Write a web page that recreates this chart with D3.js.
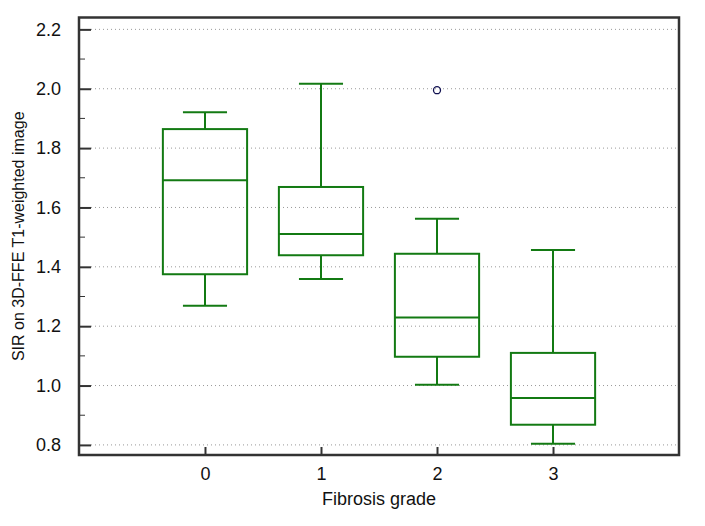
<!DOCTYPE html>
<html>
<head>
<meta charset="utf-8">
<script src="https://cdn.jsdelivr.net/npm/d3@7"></script>
<style>
  body { margin: 0; background: #fff; }
  text { font-family: "Liberation Sans", Arial, sans-serif; fill: #111; }
</style>
</head>
<body>
<div class="container"></div>
<script>
// box plot values
const grades = [0, 1, 2, 3];
const whiskerLow = [1.269, 1.359, 1.003, 0.804];
const q1 = [1.375, 1.439, 1.097, 0.868];
const median = [1.692, 1.511, 1.229, 0.958];
const q3 = [1.864, 1.669, 1.444, 1.110];
const whiskerHigh = [1.921, 2.017, 1.562, 1.457];
const outliers = [{grade: 2, value: 1.995}];
const yTicks = [0.8, 1.0, 1.2, 1.4, 1.6, 1.8, 2.0, 2.2];

const w = 705, h = 526;
const mLeft = 79, mRight = 679, mTop = 17.5, mBottom = 455;
const green = "#137a13";

const svg = d3.select(".container").append("svg")
  .attr("width", w).attr("height", h);

const x = d3.scaleLinear().domain([-1.086, 4.086]).range([mLeft, mRight]);
const y = d3.scaleLinear().domain([0.766, 2.24]).range([mBottom, mTop]);

// dotted grid
svg.append("g").selectAll("line")
  .data(yTicks).enter().append("line")
  .attr("x1", mLeft + 12).attr("x2", mRight)
  .attr("y1", d => y(d)).attr("y2", d => y(d))
  .attr("stroke", "#999").attr("stroke-width", 1)
  .attr("stroke-dasharray", "1,3");

// minor ticks
const minor = d3.range(0.8, 2.25, 0.1).filter(v => Math.round(v * 10) % 2 === 1);
svg.append("g").selectAll("line")
  .data(minor).enter().append("line")
  .attr("x1", mLeft).attr("x2", mLeft + 6)
  .attr("y1", d => y(d)).attr("y2", d => y(d))
  .attr("stroke", "#333").attr("stroke-width", 1);

// major y ticks + labels
const yAxis = d3.axisLeft(y).tickValues(yTicks).tickSize(-12).tickPadding(18)
  .tickFormat(d3.format(".1f"));
const gy = svg.append("g").attr("transform", `translate(${mLeft},0)`).call(yAxis);
gy.select(".domain").remove();
gy.selectAll(".tick line").attr("stroke", "#333").attr("stroke-width", 2);
gy.selectAll(".tick text").attr("font-size", 18).attr("fill", "#111")
  .attr("font-family", "Liberation Sans, Arial, sans-serif");

// x ticks + labels
const xAxis = d3.axisBottom(x).tickValues(grades).tickSize(-8).tickPadding(12)
  .tickFormat(d3.format("d"));
const gx = svg.append("g").attr("transform", `translate(0,${mBottom})`).call(xAxis);
gx.select(".domain").remove();
gx.selectAll(".tick line").attr("stroke", "#333").attr("stroke-width", 2);
gx.selectAll(".tick text").attr("font-size", 18).attr("fill", "#111")
  .attr("font-family", "Liberation Sans, Arial, sans-serif");

// frame
svg.append("rect")
  .attr("x", mLeft).attr("y", mTop)
  .attr("width", mRight - mLeft).attr("height", mBottom - mTop)
  .attr("fill", "none").attr("stroke", "#333").attr("stroke-width", 2.5);

// boxes
const boxHalf = 0.363, capHalf = 0.19;
const g = svg.append("g").attr("stroke", green).attr("stroke-width", 2).attr("fill", "none");
grades.forEach((k, i) => {
  const cx = x(k);
  g.append("line").attr("x1", cx).attr("x2", cx)
    .attr("y1", y(q3[i])).attr("y2", y(whiskerHigh[i]));
  g.append("line").attr("x1", cx).attr("x2", cx)
    .attr("y1", y(q1[i])).attr("y2", y(whiskerLow[i]));
  g.append("line").attr("x1", x(k - capHalf)).attr("x2", x(k + capHalf))
    .attr("y1", y(whiskerHigh[i])).attr("y2", y(whiskerHigh[i]));
  g.append("line").attr("x1", x(k - capHalf)).attr("x2", x(k + capHalf))
    .attr("y1", y(whiskerLow[i])).attr("y2", y(whiskerLow[i]));
  g.append("rect").attr("x", x(k - boxHalf)).attr("y", y(q3[i]))
    .attr("width", x(k + boxHalf) - x(k - boxHalf))
    .attr("height", y(q1[i]) - y(q3[i]));
  g.append("line").attr("x1", x(k - boxHalf)).attr("x2", x(k + boxHalf))
    .attr("y1", y(median[i])).attr("y2", y(median[i]));
});

svg.selectAll("circle.out").data(outliers).enter().append("circle")
  .attr("class", "out")
  .attr("cx", d => x(d.grade)).attr("cy", d => y(d.value)).attr("r", 3.5)
  .attr("fill", "none").attr("stroke", "#101050").attr("stroke-width", 1.3);

// axis titles
svg.append("text").attr("x", (mLeft + mRight) / 2).attr("y", 505)
  .attr("text-anchor", "middle").attr("font-size", 18)
  .text("Fibrosis grade");
svg.append("text")
  .attr("transform", `translate(24,${(mTop + mBottom) / 2}) rotate(-90)`)
  .attr("text-anchor", "middle").attr("font-size", 16)
  .text("SIR on 3D-FFE T1-weighted image");
</script>
</body>
</html>
